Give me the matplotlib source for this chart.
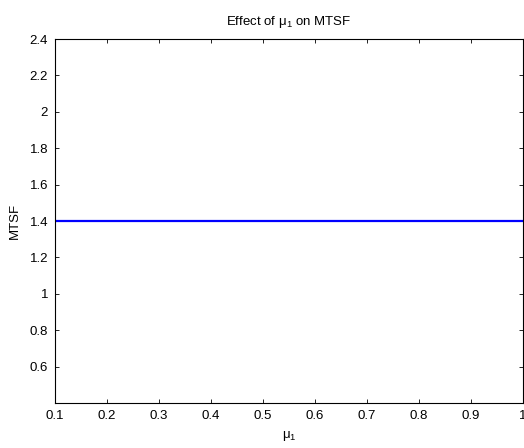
import matplotlib
matplotlib.use("Agg")
import matplotlib.pyplot as plt

plt.rcParams['font.family'] = ['Liberation Sans', 'DejaVu Sans']
plt.rcParams['mathtext.fontset'] = 'custom'
plt.rcParams['mathtext.rm'] = 'Liberation Sans'
plt.rcParams['mathtext.it'] = 'Liberation Sans'

mu1 = [0.1, 0.2, 0.3, 0.4, 0.5, 0.6, 0.7, 0.8, 0.9, 1.0]
mtsf = [1.4, 1.4, 1.4, 1.4, 1.4, 1.4, 1.4, 1.4, 1.4, 1.4]
xticks = [0.1, 0.2, 0.3, 0.4, 0.5, 0.6, 0.7, 0.8, 0.9, 1.0]
xticklabels = ['0.1', '0.2', '0.3', '0.4', '0.5', '0.6', '0.7', '0.8', '0.9', '1']
yticks = [0.6, 0.8, 1.0, 1.2, 1.4, 1.6, 1.8, 2.0, 2.2, 2.4]
yticklabels = ['0.6', '0.8', '1', '1.2', '1.4', '1.6', '1.8', '2', '2.2', '2.4']

fig = plt.figure(figsize=(5.24, 4.48), dpi=100)
ax = fig.add_axes([55/524, 45/448, 468/524, 364/448])
ax.plot(mu1, mtsf, color='#0000ff', linewidth=1.6)
ax.set_xlim(0.1, 1.0)
ax.set_ylim(0.4, 2.4)
ax.set_xticks(xticks)
ax.set_xticklabels(xticklabels)
ax.set_yticks(yticks)
ax.set_yticklabels(yticklabels)
ax.tick_params(direction='in', top=True, right=True, length=3, width=0.6, labelsize=9.5, pad=5)
for s in ax.spines.values():
    s.set_linewidth(0.8)
ax.set_title('Effect of μ$_{1}$ on MTSF', fontsize=9.5, pad=10)
ax.set_xlabel('μ$_{1}$', fontsize=9.5, labelpad=5)
ax.set_ylabel('MTSF', fontsize=9.5, labelpad=6)
fig.savefig('out.png', dpi=100)
